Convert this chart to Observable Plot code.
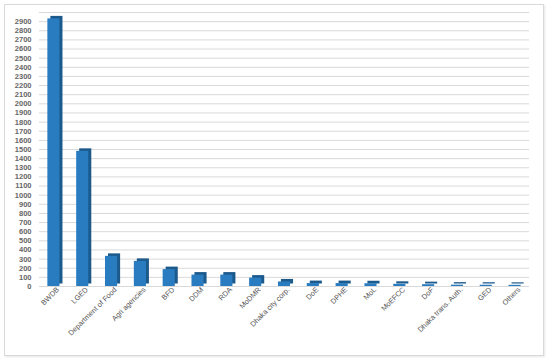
<!DOCTYPE html>
<html>
<head>
<meta charset="utf-8">
<script src="https://cdn.jsdelivr.net/npm/d3@7"></script>
<script src="https://cdn.jsdelivr.net/npm/@observablehq/plot@0.6"></script>
<style>
  html, body { margin: 0; padding: 0; background: #fff; }
  #wrap { position: relative; width: 550px; height: 362px; }
  #frame { position: absolute; left: 4px; top: 4px; width: 538px; height: 350px;
           border: 1px solid #d9d9d9; box-shadow: 1px 1px 2px #e6e6e6; pointer-events: none; }
</style>
</head>
<body>
<div id="wrap"><div id="frame"></div></div>
<script>
const agencies = ["BWDB", "LGED", "Department of Food", "Agri agencies", "BFD", "DDM", "RDA", "MoDMR",
  "Dhaka city corp.", "DoE", "DPHE", "MoL", "MoEFCC", "DoF", "Dhaka trans. Auth.", "GED", "Others"];
const counts = [2930, 1480, 330, 275, 185, 125, 125, 92, 50, 32, 32, 30, 24, 20, 15, 14, 13];
const yTicks = d3.range(0, 3000, 100);
const gridTicks = d3.range(0, 3100, 100);

const data = agencies.map((a, i) => ({agency: a, count: counts[i]}));

const chart = Plot.plot({
  width: 550,
  height: 362,
  marginTop: 12,
  marginBottom: 76,
  marginLeft: 39,
  marginRight: 21,
  style: {fontFamily: "Liberation Sans, Arial, sans-serif", background: "transparent"},
  x: {domain: agencies, paddingInner: 0.58, paddingOuter: 0.29, round: false, label: null},
  y: {domain: [0, 3000], label: null},
  marks: [
    Plot.ruleY(gridTicks, {stroke: "#d9d9d9", strokeWidth: 1}),
    Plot.axisY({ticks: yTicks, tickFormat: "d", tickSize: 0, tickPadding: 8, fontSize: 7.5, fontWeight: "bold",
                fill: "#666", label: null}),
    Plot.axisX({tickSize: 0, tickPadding: 2, dx: 4, tickRotate: -45, fontSize: 7.3, fill: "#555", label: null}),
    // depth (side/top) of the 3D columns
    Plot.barY(data, {x: "agency", y: "count", fill: "#1d5a8c", dx: 3, dy: -2.5}),
    // front face
    Plot.barY(data, {x: "agency", y: "count", fill: "#2a7cc0"})
  ]
});
document.getElementById("wrap").prepend(chart);
</script>
</body>
</html>
